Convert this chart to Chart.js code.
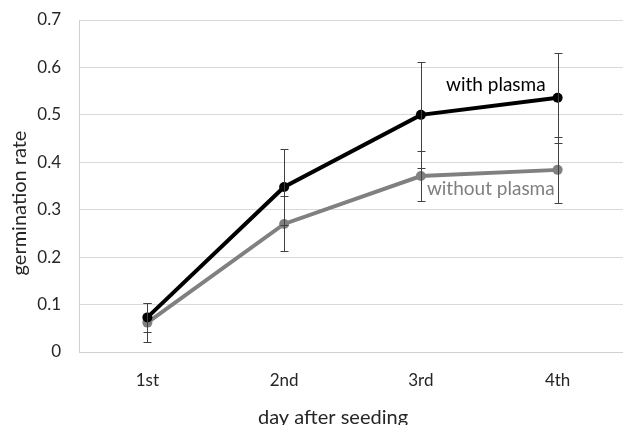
<!DOCTYPE html>
<html>
<head>
<meta charset="utf-8">
<script src="https://cdn.jsdelivr.net/npm/chart.js@4"></script>
<style>
html,body{margin:0;padding:0;background:#fff;overflow:hidden;width:623px;height:425px;}
#wrap{position:relative;width:632px;height:425px;}
</style>
</head>
<body>
<div id="wrap"><canvas id="c" width="632" height="425"></canvas></div>
<script>
const categories = ['1st', '2nd', '3rd', '4th'];
const withPlasma = [0.073, 0.348, 0.5, 0.536];
const withPlasmaErr = [0.03, 0.08, 0.112, 0.095];
const withoutPlasma = [0.062, 0.27, 0.371, 0.384];
const withoutPlasmaErr = [0.041, 0.058, 0.053, 0.07];
const yTicks = [0, 0.1, 0.2, 0.3, 0.4, 0.5, 0.6, 0.7];
const seriesNames = ['with plasma', 'without plasma'];
const xTitle = 'day after seeding';
const yTitle = 'germination rate';

const FONT = 'Lato, "Noto Sans", sans-serif';

const errorBars = {
  id: 'errorBars',
  afterDatasetsDraw(chart) {
    const ctx = chart.ctx;
    const errs = [withPlasmaErr, withoutPlasmaErr];
    ctx.save();
    ctx.strokeStyle = '#404040';
    ctx.lineWidth = 1;
    chart.data.datasets.forEach((ds, di) => {
      const meta = chart.getDatasetMeta(di);
      meta.data.forEach((pt, i) => {
        const v = ds.data[i], e = errs[di][i];
        const x = Math.round(pt.x) + 0.5;
        const yt = Math.round(chart.scales.y.getPixelForValue(v + e)) + 0.5;
        const yb = Math.round(chart.scales.y.getPixelForValue(v - e)) + 0.5;
        ctx.beginPath();
        ctx.moveTo(x, yt); ctx.lineTo(x, yb);
        ctx.moveTo(x - 4, yt); ctx.lineTo(x + 4, yt);
        ctx.moveTo(x - 4, yb); ctx.lineTo(x + 4, yb);
        ctx.stroke();
      });
    });
    ctx.restore();
  }
};

const textPlugin = {
  id: 'texts',
  afterDraw(chart) {
    const ctx = chart.ctx;
    ctx.save();
    ctx.font = '20px ' + FONT;
    ctx.fillStyle = '#262626';
    ctx.textAlign = 'center';
    ctx.textBaseline = 'alphabetic';
    ctx.fillText(xTitle, 333, 424);
    ctx.save();
    ctx.translate(20, 203);
    ctx.rotate(-Math.PI / 2);
    ctx.textBaseline = 'middle';
    ctx.fillText(yTitle, 0, 0);
    ctx.restore();
    const m0 = chart.getDatasetMeta(0).data;
    const m1 = chart.getDatasetMeta(1).data;
    ctx.font = '19px ' + FONT;
    ctx.textBaseline = 'alphabetic';
    ctx.fillStyle = '#000';
    ctx.textAlign = 'right';
    ctx.fillText(seriesNames[0], m0[3].x - 12, m0[3].y - 7);
    ctx.fillStyle = '#7f7f7f';
    ctx.textAlign = 'left';
    ctx.fillText(seriesNames[1], m1[2].x + 6, m1[2].y + 19);
    ctx.restore();
  }
};

new Chart(document.getElementById('c'), {
  type: 'line',
  data: {
    labels: categories,
    datasets: [
      {
        label: seriesNames[0], data: withPlasma,
        borderColor: '#000', backgroundColor: '#000',
        borderWidth: 4, pointRadius: 5, pointHoverRadius: 5,
        pointBackgroundColor: '#000', pointBorderWidth: 0, tension: 0, order: 1
      },
      {
        label: seriesNames[1], data: withoutPlasma,
        borderColor: '#808080', backgroundColor: '#808080',
        borderWidth: 4, pointRadius: 5, pointHoverRadius: 5,
        pointBackgroundColor: '#808080', pointBorderWidth: 0, tension: 0, order: 2
      }
    ]
  },
  options: {
    responsive: false,
    animation: false,
    events: [],
    layout: { padding: { left: 0, right: 6, top: 20, bottom: 0 } },
    plugins: { legend: { display: false }, tooltip: { enabled: false } },
    scales: {
      x: {
        offset: true,
        grid: { display: false, drawTicks: false },
        border: { display: true, color: '#d0d0d0', width: 1 },
        ticks: { color: '#262626', font: { family: FONT, size: 17 }, padding: 18, maxRotation: 0 },
        afterFit(s) { s.height = 73; s.paddingLeft = 0; s.paddingRight = 0; }
      },
      y: {
        min: 0, max: 0.7,
        afterBuildTicks(s) { s.ticks = yTicks.map(v => ({ value: v })); },
        grid: { color: '#d9d9d9', lineWidth: 1, drawTicks: false },
        border: { display: true, color: '#d0d0d0', width: 1 },
        ticks: { color: '#262626', font: { family: FONT, size: 17 }, padding: 18,
                 callback: v => String(Math.round(v * 10) / 10) },
        afterFit(s) { s.width = 79; s.paddingTop = 0; s.paddingBottom = 0; }
      }
    }
  },
  plugins: [errorBars, textPlugin]
});
</script>
</body>
</html>
